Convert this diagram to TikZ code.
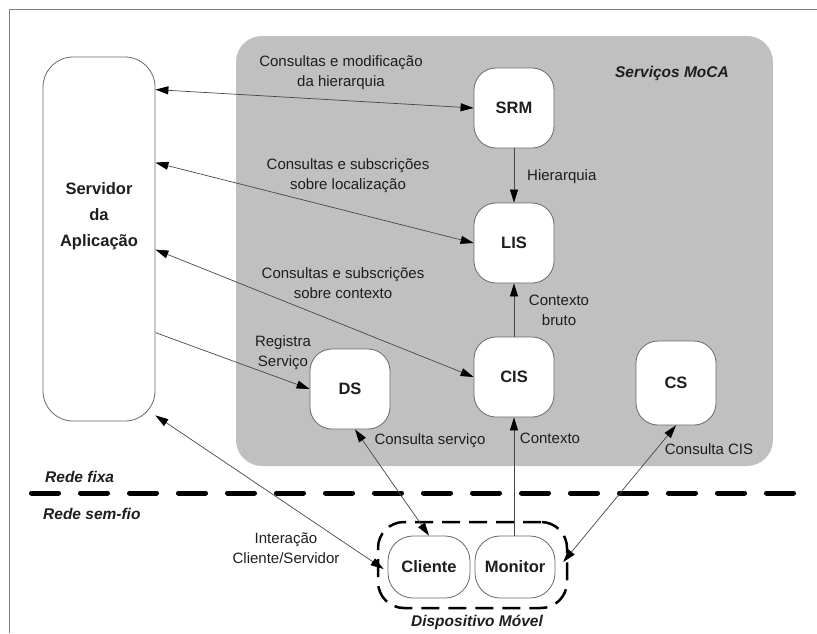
\documentclass[tikz,border=0pt]{standalone}
\usepackage{fontspec}
\setmainfont{Liberation Sans}
\usetikzlibrary{arrows.meta,calc}
\definecolor{mgray}{RGB}{192,192,192}
\definecolor{edgegray}{RGB}{105,105,105}
\definecolor{linegray}{RGB}{70,70,70}
\definecolor{txt}{RGB}{30,30,30}
\begin{document}
\begin{tikzpicture}[x=1pt,y=-1pt,
  box/.style={draw=edgegray, line width=0.8pt, fill=white, rounded corners=22pt,
    minimum width=80pt, minimum height=80pt, inner sep=0pt,
    font=\fontsize{16.5}{19}\selectfont\bfseries, text=txt},
  lbl/.style={font=\fontsize{15}{20}\selectfont, align=center, inner sep=0pt, text=txt},
  ital/.style={font=\fontsize{15.5}{19}\selectfont\bfseries\itshape, inner sep=0pt, text=txt},
  conn/.style={draw=linegray, line width=0.7pt},
  onetip/.style={-{Triangle[length=13pt,width=8pt,color=black]}},
  twotip/.style={{Triangle[length=13pt,width=8pt,color=black]}-{Triangle[length=13pt,width=8pt,color=black]}}
]
\useasboundingbox (0,0) rectangle (817,633);
% partial frame
\draw[draw=gray, line width=0.8pt] (9,633) -- (9,9) -- (817,9);
% MoCA services region
\fill[mgray, rounded corners=26pt] (236,36) rectangle (773,466);
\node[ital] (moca) at (672,73) {Serviços MoCA};

% application server
\node[draw=edgegray, line width=0.8pt, fill=white, rounded corners=30pt,
      minimum width=112pt, minimum height=364pt, inner sep=0pt] (srv) at (99,239) {};
\node[font=\fontsize{16.5}{26}\selectfont\bfseries, align=center, text=txt] (srvtext) at (99,216) {Servidor\\da\\Aplicação};

% service nodes
\node[box] (srm) at (514,108) {SRM};
\node[box] (lis) at (514,243) {LIS};
\node[box] (cis) at (514,377) {CIS};
\node[box] (ds)  at (350,389) {DS};
\node[box, minimum height=84pt] (cs) at (676,383) {CS};

% network divider
\draw[line width=5pt, line cap=round, dash pattern=on 27pt off 22pt] (31.5,493) -- (800,493);
\node[ital, anchor=west] (fixa) at (45,477) {Rede fixa};
\node[ital, anchor=west] (semfio) at (43,514) {Rede sem-fio};

% mobile device
\node[draw=black, line width=2.5pt, dash pattern=on 18pt off 9pt, rounded corners=26pt,
      minimum width=189pt, minimum height=86pt, inner sep=0pt] (dev) at (472.5,565) {};
\node[box, minimum width=82pt, minimum height=62pt, rounded corners=25pt] (cli) at (429,567) {Cliente};
\node[box, minimum width=80pt, minimum height=62pt, rounded corners=25pt] (mon) at (515,567) {Monitor};
\node[ital] (devlbl) at (477,622) {Dispositivo Móvel};

% connectors
\draw[conn, twotip] ([yshift=-33pt]srv.north east) -- (srm.west);
\draw[conn, twotip] ([yshift=-106pt]srv.north east) -- (lis.west);
\draw[conn, twotip] ([yshift=-193pt]srv.north east) -- (cis.west);
\draw[conn, onetip] ([yshift=-276pt]srv.north east) -- (ds.west);
\draw[conn, twotip] ([yshift=6pt]srv.south east) -- ([xshift=-4pt,yshift=-2pt]cli.west);
\draw[conn, twotip] ([xshift=5pt]ds.south) -- (cli.north);
\draw[conn, onetip] (cis.south |- mon.north) -- (cis.south);
\draw[conn, twotip] ([xshift=-5pt,yshift=3pt]dev.east) -- (cs.south);
\draw[conn, onetip] (srm.south) -- (lis.north);
\draw[conn, onetip] (cis.north) -- (lis.south);

% labels
\node[lbl] (l1) at (341,73) {Consultas e modificação\\da hierarquia};
\node[lbl] (l2) at (348,176) {Consultas e subscrições\\sobre localização};
\node[lbl] (l3) at (343,283) {Consultas e subscrições\\sobre contexto};
\node[lbl] (l4) at (283,353) {Registra\\Serviço};
\node[lbl, anchor=west] (l5) at (527,177) {Hierarquia};
\node[lbl] (l6) at (559,310) {Contexto\\bruto};
\node[lbl] (l7) at (430,441) {Consulta serviço};
\node[lbl] (l8) at (550,438) {Contexto};
\node[lbl] (l9) at (709,449) {Consulta CIS};
\node[lbl] (l10) at (286,548) {Interação\\Cliente/Servidor};
\end{tikzpicture}
\end{document}
